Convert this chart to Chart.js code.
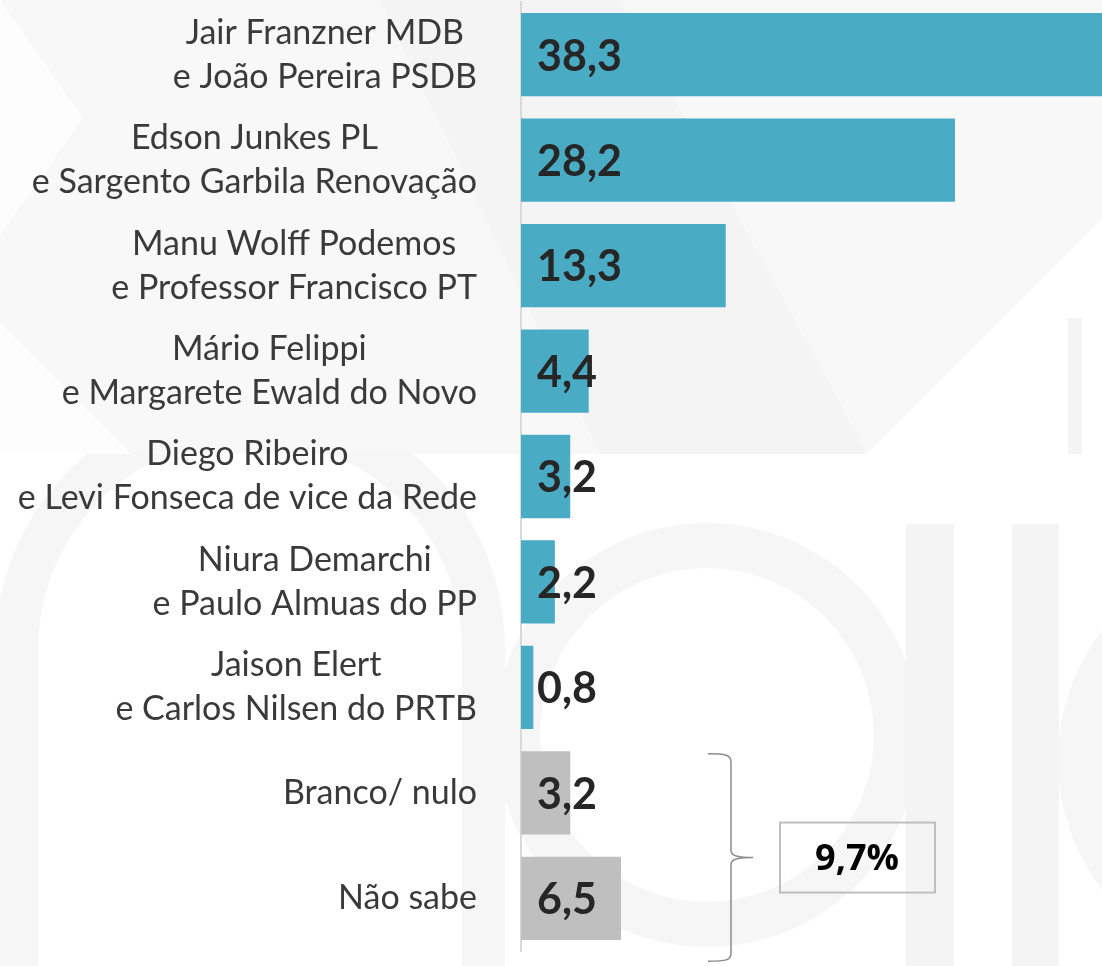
<!DOCTYPE html>
<html>
<head>
<meta charset="utf-8">
<script src="https://cdn.jsdelivr.net/npm/chart.js"></script>
<style>
  html, body { margin: 0; padding: 0; background: #fff; }
  #wrap { width: 1102px; height: 966px; }
</style>
</head>
<body>
<div id="wrap"><canvas id="chart" width="1102" height="966"></canvas></div>
<script>
// data
const categories = [
  ['Jair Franzner MDB', 'e João Pereira PSDB'],
  ['Edson Junkes PL', 'e Sargento Garbila Renovação'],
  ['Manu Wolff Podemos', 'e Professor Francisco PT'],
  ['Mário Felippi', 'e Margarete Ewald do Novo'],
  ['Diego Ribeiro', 'e Levi Fonseca de vice da Rede'],
  ['Niura Demarchi', 'e Paulo Almuas do PP'],
  ['Jaison Elert', 'e Carlos Nilsen do PRTB'],
  'Branco/ nulo',
  'Não sabe'
];
const values = [38.3, 28.2, 13.3, 4.4, 3.2, 2.2, 0.8, 3.2, 6.5];
const isCandidate = [true, true, true, true, true, true, true, false, false];
const groupIdx = [7, 8]; // branco + não sabe

const fmt = v => v.toFixed(1).replace('.', ',');

// faint watermark behind the chart
const watermark = {
  id: 'watermark',
  beforeDraw(chart) {
    const ctx = chart.ctx;
    ctx.save();
    ctx.fillStyle = '#fff';
    ctx.fillRect(0, 0, chart.width, chart.height);

    ctx.fillStyle = '#f6f6f6';
    // "m" arch
    ctx.beginPath();
    ctx.arc(250, 650, 255, Math.PI, 0);
    ctx.lineTo(505, 966); ctx.lineTo(462, 966); ctx.lineTo(462, 650);
    ctx.arc(250, 650, 212, 0, Math.PI, true);
    ctx.lineTo(38, 966); ctx.lineTo(-5, 966); ctx.closePath();
    ctx.fill();
    // "o" ring
    ctx.beginPath();
    ctx.arc(707, 735, 212, 0, Math.PI * 2);
    ctx.arc(707, 735, 167, 0, Math.PI * 2, true);
    ctx.fill('evenodd');
    // ring on the far right
    ctx.beginPath();
    ctx.arc(1270, 760, 212, 0, Math.PI * 2);
    ctx.arc(1270, 760, 167, 0, Math.PI * 2, true);
    ctx.fill('evenodd');
    // stems
    ctx.fillStyle = '#f4f4f4';
    ctx.fillRect(906, 524, 48, 442);
    ctx.fillRect(1012, 524, 47, 442);
    ctx.fillRect(1068, 318, 14, 136);

    // top band with chevrons
    ctx.fillStyle = '#f8f8f8';
    ctx.beginPath();
    ctx.moveTo(0, 0); ctx.lineTo(1102, 0); ctx.lineTo(1102, 219);
    ctx.lineTo(867, 454); ctx.lineTo(0, 454); ctx.closePath();
    ctx.fill();
    ctx.fillStyle = '#f4f4f4';
    ctx.beginPath();
    ctx.moveTo(380, 0); ctx.lineTo(620, 0); ctx.lineTo(867, 454); ctx.lineTo(600, 454);
    ctx.closePath();
    ctx.fill();
    ctx.fillStyle = '#fdfdfd';
    ctx.beginPath();
    ctx.moveTo(0, 0); ctx.lineTo(83, 118); ctx.lineTo(0, 236); ctx.closePath();
    ctx.fill();
    ctx.beginPath();
    ctx.moveTo(0, 323); ctx.lineTo(131, 454); ctx.lineTo(0, 454); ctx.closePath();
    ctx.fill();
    ctx.restore();
  }
};

// category labels, value labels, bracket and total box
const labelsPlugin = {
  id: 'labels',
  afterDatasetsDraw(chart) {
    const ctx = chart.ctx;
    const ys = chart.scales.y, xs = chart.scales.x;
    ctx.save();

    // category names, block right-aligned, lines centered
    ctx.font = '34px Lato';
    ctx.fillStyle = '#3a3a3a';
    ctx.textAlign = 'center';
    ctx.textBaseline = 'middle';
    categories.forEach((c, i) => {
      const lines = Array.isArray(c) ? c : [c];
      const w = Math.max(...lines.map(l => ctx.measureText(l).width));
      const cx = 477 - w / 2;
      const yc = ys.getPixelForValue(i);
      lines.forEach((l, j) => ctx.fillText(l, cx, yc + (j - (lines.length - 1) / 2) * 44));
    });

    // values
    ctx.font = 'bold 43px Lato';
    ctx.fillStyle = '#262626';
    ctx.textAlign = 'left';
    const x0 = xs.getPixelForValue(0);
    values.forEach((v, i) => ctx.fillText(fmt(v), x0 + 16, ys.getPixelForValue(i) + 2));

    // bracket
    const top = ys.getPixelForValue(groupIdx[0]) - 39;
    const bot = ys.getPixelForValue(groupIdx[1]) + 63;
    const mid = (top + bot) / 2;
    ctx.strokeStyle = '#8c8c8c';
    ctx.lineWidth = 1.5;
    ctx.beginPath();
    ctx.moveTo(708, top);
    ctx.bezierCurveTo(726, top, 731, top + 1, 731, top + 8);
    ctx.lineTo(731, mid - 7);
    ctx.bezierCurveTo(731, mid - 1, 740, mid, 753, mid);
    ctx.moveTo(753, mid);
    ctx.bezierCurveTo(740, mid, 731, mid + 1, 731, mid + 7);
    ctx.lineTo(731, bot - 8);
    ctx.bezierCurveTo(731, bot - 1, 726, bot, 708, bot);
    ctx.stroke();

    // total box
    ctx.strokeStyle = '#bfbfbf';
    ctx.lineWidth = 2;
    ctx.strokeRect(780, mid - 35, 155, 70);
    const total = groupIdx.reduce((s, i) => s + values[i], 0);
    ctx.font = 'bold 36px "Open Sans"';
    ctx.fillStyle = '#000';
    ctx.textAlign = 'center';
    ctx.fillText(fmt(total) + '%', 857, mid + 2);
    ctx.restore();
  }
};

new Chart(document.getElementById('chart'), {
  type: 'bar',
  data: {
    labels: categories,
    datasets: [{
      data: values,
      backgroundColor: isCandidate.map(c => c ? '#4aabc5' : '#bfbfbf'),
      barPercentage: 0.79,
      categoryPercentage: 1
    }]
  },
  options: {
    indexAxis: 'y',
    responsive: false,
    animation: false,
    devicePixelRatio: 1,
    layout: { padding: { top: 2, bottom: 15, left: 0, right: 0 } },
    plugins: { legend: { display: false }, tooltip: { enabled: false } },
    scales: {
      x: { min: 0, max: 37.75, display: false },
      y: {
        grid: { display: false },
        border: { color: '#d9d9d9', width: 2 },
        ticks: { display: false },
        afterFit(s) { s.width = 521; }
      }
    }
  },
  plugins: [watermark, labelsPlugin]
});
</script>
</body>
</html>
